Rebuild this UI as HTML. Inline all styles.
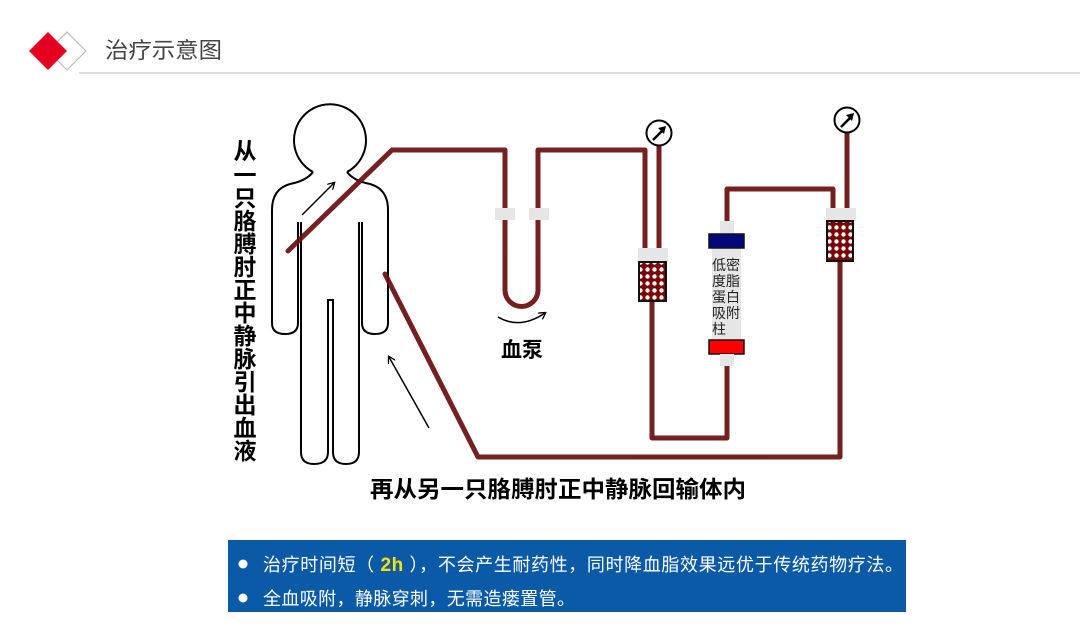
<!DOCTYPE html>
<html><head><meta charset="utf-8"><style>
html,body{margin:0;padding:0;background:#fff;}
body{width:1080px;height:636px;overflow:hidden;position:relative;font-family:"Liberation Sans","Noto Sans CJK SC",sans-serif;}
</style></head><body>
<svg width="1080" height="636" viewBox="0 0 1080 636" xmlns="http://www.w3.org/2000/svg" style="position:absolute;left:0;top:0">
<defs>
<pattern id="chk" width="7" height="7" patternUnits="userSpaceOnUse">
<rect width="7" height="7" fill="#7a0505"/>
<circle cx="3.5" cy="3.5" r="2.2" fill="#fff"/>
</pattern>
<marker id="ar" markerWidth="8" markerHeight="8" refX="6" refY="4" orient="auto" markerUnits="userSpaceOnUse">
<path d="M0,0 L7,4 L0,8" fill="none" stroke="#000" stroke-width="1.3"/>
</marker>
</defs>
<!-- header -->
<polygon points="67,32 86,51 67,70 48,51" fill="#fff" stroke="#bbb" stroke-width="1.2"/>
<polygon points="48,32 67,51 48,70 29,51" fill="#e60020"/>
<text x="105" y="58" font-size="22" fill="#444" textLength="117" lengthAdjust="spacingAndGlyphs" font-family="Liberation Sans,Noto Sans CJK SC,sans-serif">治疗示意图</text>
<line x1="79" y1="73" x2="1080" y2="73" stroke="#bbb" stroke-width="1"/>

<!-- vertical text -->
<g font-size="23" font-weight="bold" fill="#000" text-anchor="middle" font-family="Liberation Sans,Noto Sans CJK SC,sans-serif">
<text x="245" y="159">从</text><text x="245" y="183">一</text><text x="245" y="206">只</text><text x="245" y="229">胳</text><text x="245" y="252">膊</text><text x="245" y="275">肘</text><text x="245" y="298">正</text><text x="245" y="321">中</text><text x="245" y="344">静</text><text x="245" y="367">脉</text><text x="245" y="390">引</text><text x="245" y="413">出</text><text x="245" y="436">血</text><text x="245" y="459">液</text>
</g>

<!-- person -->
<g fill="none" stroke="#000" stroke-width="2">
<path d="M313,172 A36,36 0 1 1 347,172"/>
<path d="M313,172 Q306,181 290,184 Q272,189 272,210 L272,323 Q272,334 285,334 Q298,334 298,323 L298,222"/>
<path d="M347,172 Q354,181 370,184 Q388,189 388,210 L388,323 Q388,334 375,334 Q362,334 362,323 L362,222"/>
<path d="M301,222 L301,452 Q301,464 314,464 Q328,464 328,452 L328,300 L333,300 L333,452 Q333,464 346,464 Q359,464 359,452 L359,222"/>
</g>

<!-- arrows -->
<line x1="302" y1="215" x2="334" y2="183" stroke="#000" stroke-width="1.5" marker-end="url(#ar)"/>
<line x1="429" y1="428" x2="389" y2="357" stroke="#000" stroke-width="1.5" marker-end="url(#ar)"/>
<path d="M498,317 Q520,330 545,313" fill="none" stroke="#000" stroke-width="1.5" marker-end="url(#ar)"/>

<!-- tubes -->
<g fill="none" stroke="#6a0e0e" stroke-width="5" stroke-linejoin="round" stroke-linecap="round" opacity="0.92">
<path d="M288,251 L392,150 L505,150 L505,290 A16.5,16.5 0 0 0 538,290 L538,150 L645,150 L645,250"/>
<path d="M659,146 L659,250"/>
<path d="M652,300 L652,438 L727,438 L727,366"/>
<path d="M727,221 L727,189 L833,189 L833,210"/>
<path d="M847,133 L847,210"/>
<path d="M840,261 L840,457 L478,457 L385,274"/>
</g>
<!-- pump clamps -->
<rect x="495" y="208" width="20" height="12" fill="#e6e6e6"/>
<rect x="529" y="208" width="20" height="12" fill="#e6e6e6"/>
<text x="522" y="357" font-size="21" font-weight="bold" text-anchor="middle" font-family="Liberation Sans,Noto Sans CJK SC,sans-serif">血泵</text>

<!-- gauges -->
<circle cx="659" cy="133" r="12.5" fill="#fff" stroke="#000" stroke-width="2"/>
<line x1="653" y1="140" x2="664" y2="129" stroke="#000" stroke-width="2.5"/><path d="M666,126 L658,128 L664,134Z" fill="#000"/>
<circle cx="847" cy="120" r="12.5" fill="#fff" stroke="#000" stroke-width="2"/>
<line x1="841" y1="127" x2="852" y2="116" stroke="#000" stroke-width="2.5"/><path d="M854,113 L846,115 L852,121Z" fill="#000"/>

<!-- filters -->
<rect x="638" y="248" width="30" height="14" fill="#e6e6e6"/>
<rect x="639" y="262" width="27" height="39" fill="url(#chk)" stroke="#111" stroke-width="2"/>
<rect x="826" y="208" width="30" height="13" fill="#e6e6e6"/>
<rect x="827" y="221" width="26" height="40" fill="url(#chk)" stroke="#111" stroke-width="2"/>

<!-- column -->
<rect x="720" y="221" width="14" height="13" fill="#e6e6e6"/>
<rect x="712" y="248" width="29" height="92" fill="#e6e6e6"/>
<rect x="709" y="234" width="35" height="14" fill="#00087e" stroke="#111" stroke-width="1.5"/>
<rect x="709" y="340" width="35" height="14" fill="#ff0000" stroke="#111" stroke-width="1.5"/>
<rect x="720" y="354" width="14" height="12" fill="#e6e6e6"/>
<g font-size="14" fill="#222" font-family="Liberation Sans,Noto Sans CJK SC,sans-serif">
<text x="712" y="270">低密</text><text x="712" y="286">度脂</text><text x="712" y="302">蛋白</text><text x="712" y="318">吸附</text><text x="712" y="334">柱</text>
</g>

<text x="370" y="497" font-size="23" font-weight="bold" textLength="376" lengthAdjust="spacingAndGlyphs" font-family="Liberation Sans,Noto Sans CJK SC,sans-serif">再从另一只胳膊肘正中静脉回输体内</text>

<!-- blue box -->
<rect x="228" y="540" width="678" height="72" fill="#0b5aa8"/>
<circle cx="243" cy="564" r="4.5" fill="#fff"/>
<circle cx="243" cy="598" r="4.5" fill="#fff"/>
<text x="263" y="571" font-size="18" fill="#fff" textLength="640" lengthAdjust="spacing" font-family="Liberation Sans,Noto Sans CJK SC,sans-serif">治疗时间短（ <tspan fill="#ffe000" font-weight="bold" font-size="19">2h</tspan> ），不会产生耐药性，同时降血脂效果远优于传统药物疗法。</text>
<text x="263" y="605" font-size="18" fill="#fff" textLength="312" lengthAdjust="spacing" font-family="Liberation Sans,Noto Sans CJK SC,sans-serif">全血吸附，静脉穿刺，无需造瘘置管。</text>
</svg>
</body></html>
